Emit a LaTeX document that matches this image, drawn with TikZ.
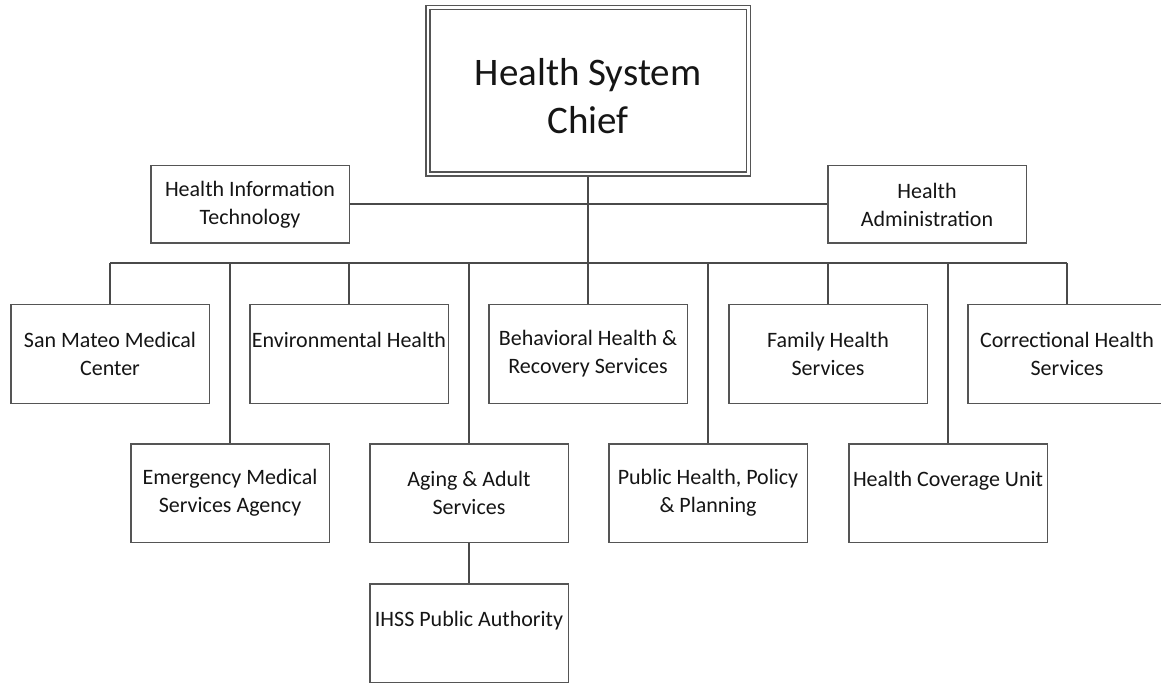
\documentclass[tikz,border=0pt]{standalone}
\usepackage{fontspec}
\setmainfont{Carlito}
\definecolor{boxline}{HTML}{555555}
\definecolor{linkline}{HTML}{4A4A4A}
\definecolor{txt}{HTML}{151515}
\begin{document}
\begin{tikzpicture}[x=1pt,y=-1pt,
  unit/.style={draw=boxline, line width=1.5pt, fill=white, inner sep=0pt,
    minimum width=198.5pt, minimum height=98.5pt, align=center, text=txt,
    font=\fontsize{22}{28}\selectfont},
  side/.style={unit, minimum height=77.5pt},
  chiefbox/.style={draw=boxline, line width=1.5pt, double=white, double distance=2.5pt,
    outer sep=2.75pt, fill=white, minimum width=320.5pt, minimum height=166.5pt,
    align=center, text=txt, font=\fontsize{39}{48}\selectfont},
  link/.style={draw=linkline, line width=2pt}]
\useasboundingbox (0,0) rectangle (1161,684);
\clip (0,0) rectangle (1161,684);
% top
\node [chiefbox] (chief) at (588,91) {\rule{0pt}{37pt}Health System\\Chief};
\node [side] (hit) at (250,204.5) {Health Information\\Technology};
\node [side] (admin) at (927,204.5) {Health\\Administration};
\coordinate (bus) at (588,263);
% first row
\node [unit] (smmc) at (110,354) {San Mateo Medical\\Center};
\node [unit] (envh) at (349,354) {Environmental Health\\\mbox{}};
\node [unit] (bhrs) at (588,354) {Behavioral Health \&\\Recovery Services};
\node [unit] (fhs) at (828,354) {Family Health\\Services};
\node [unit] (chs) at (1067,354) {Correctional Health\\Services};
% second row
\node [unit] (ems) at (230,493) {Emergency Medical\\Services Agency};
\node [unit] (aas) at (469,493) {Aging \& Adult\\Services};
\node [unit] (phpp) at (708,493) {Public Health, Policy\\\& Planning};
\node [unit] (hcu) at (948,493) {Health Coverage Unit\\\mbox{}};
\node [unit] (ihss) at (469,633) {IHSS Public Authority\\\mbox{}};
% connectors
\draw [link] (hit.east) -- (admin.west);
\draw [link, line width=2.5pt] (chief.south) -- (bus);
\draw [link, line width=2.5pt] (smmc.north |- bus) -- (chs.north |- bus);
\foreach \u in {smmc,envh,bhrs,fhs,chs,ems,aas,phpp,hcu}
  \draw [link] (\u.north |- bus) -- (\u.north);
\draw [link] (aas.south) -- (ihss.north);
\end{tikzpicture}
\end{document}
